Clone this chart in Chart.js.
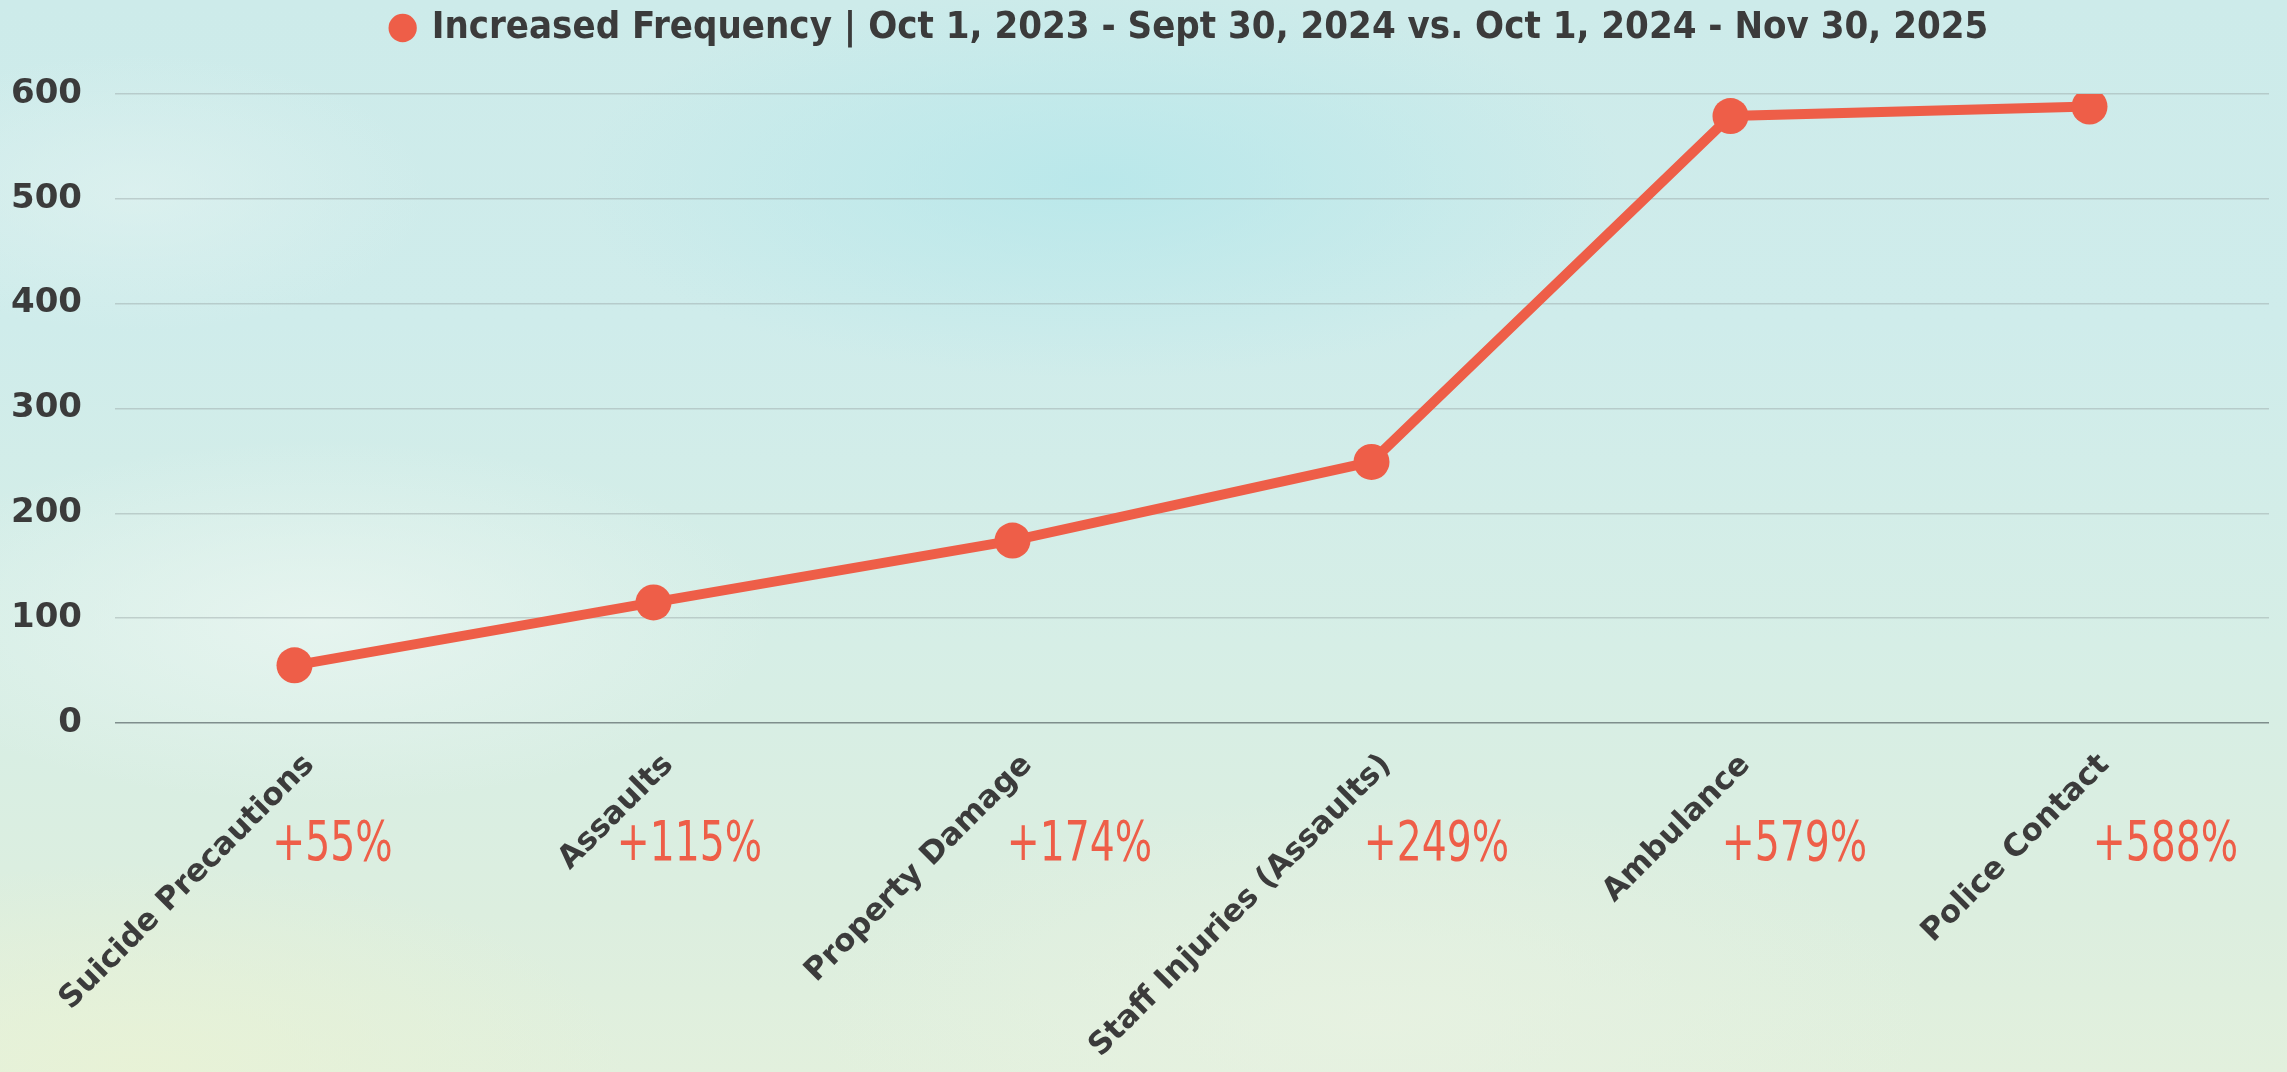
<!DOCTYPE html>
<html><head><meta charset="utf-8">
<script src="https://cdn.jsdelivr.net/npm/chart.js@4.4.1/dist/chart.umd.min.js"></script>
<style>
html,body{margin:0;padding:0;width:2287px;height:1072px;overflow:hidden;}
body{
  background:
    radial-gradient(ellipse 750px 280px at 48% 17%, rgba(182,231,234,0.85), rgba(182,231,234,0) 70%),
    radial-gradient(ellipse 650px 260px at 14% 58%, rgba(232,245,240,0.9), rgba(232,245,240,0) 70%),
    radial-gradient(ellipse 420px 200px at 6% 18%, rgba(224,242,240,0.7), rgba(224,242,240,0) 70%),
    radial-gradient(ellipse 700px 300px at 6% 100%, rgba(232,242,214,0.95), rgba(232,242,214,0) 70%),
    radial-gradient(ellipse 800px 320px at 60% 95%, rgba(232,242,226,0.8), rgba(232,242,226,0) 70%),
    linear-gradient(180deg, #cdebea 0%, #cfeceb 30%, #d6eee6 60%, #dceedf 85%, #e2f0dd 100%);
}
canvas{display:block;}
</style></head><body>
<canvas id="c" width="2287" height="1072"></canvas>
<script>
const categories = ['Suicide Precautions','Assaults','Property Damage','Staff Injuries (Assaults)','Ambulance','Police Contact'];
const seriesValues = [55, 115, 174, 249, 579, 588];
const changeLabels = ['+55%','+115%','+174%','+249%','+579%','+588%'];
const yTicks = [0, 100, 200, 300, 400, 500, 600];
const seriesName = 'Increased Frequency | Oct 1, 2023 - Sept 30, 2024 vs. Oct 1, 2024 - Nov 30, 2025';

const RED = '#EE5E48';
const DARK = '#3b3b3b';
const annotDx = [38, 36, 67, 65, 64, 76];

const changePlugin = {
  id: 'changeLabels',
  afterDraw(chart) {
    const {ctx, scales: {x, y}} = chart;
    ctx.save();
    ctx.fillStyle = RED;
    ctx.font = '56px "DejaVu Sans Condensed", sans-serif';
    ctx.textAlign = 'center';
    ctx.textBaseline = 'middle';
    const sx = 0.78;
    changeLabels.forEach((t, i) => {
      const px = x.getPixelForValue(i) + annotDx[i];
      const py = y.getPixelForValue(0) + 122;
      ctx.save();
      ctx.translate(px, py);
      ctx.scale(sx, 1);
      ctx.fillText(t, 0, 0);
      ctx.restore();
    });
    ctx.restore();
  }
};

const legendTweak = {
  id: 'legendTweak',
  beforeInit(chart) {
    const lg = chart.legend;
    if (!lg) return;
    const origFit = lg.fit;
    lg.fit = function () { origFit.call(this); this.height += 37; };
    const origDraw = lg.draw;
    lg.draw = function (area) {
      const c = this.ctx;
      c.save();
      c.translate(54, 0);
      origDraw.call(this, area);
      c.restore();
    };
  }
};

new Chart(document.getElementById('c'), {
  type: 'line',
  data: {
    labels: categories,
    datasets: [{
      label: seriesName,
      data: seriesValues,
      borderColor: RED,
      backgroundColor: RED,
      pointBackgroundColor: RED,
      pointBorderWidth: 0,
      pointRadius: 18,
      pointHoverRadius: 18,
      borderWidth: 10,
      tension: 0,
      fill: false
    }]
  },
  options: {
    responsive: false,
    animation: false,
    devicePixelRatio: 1,
    layout: { padding: { top: 0, right: 14, left: 0, bottom: 0 } },
    plugins: {
      tooltip: { enabled: false },
      legend: {
        position: 'top',
        labels: {
          usePointStyle: true,
          pointStyle: 'circle',
          boxHeight: 20,
          boxWidth: 20,
          color: DARK,
          padding: 9,
          font: { family: '"DejaVu Sans Condensed", sans-serif', size: 38, weight: 'bold' }
        }
      }
    },
    scales: {
      x: {
        offset: true,
        grid: { display: false, drawTicks: false },
        border: { display: false },
        ticks: {
          autoSkip: false,
          minRotation: 45,
          maxRotation: 45,
          padding: 24,
          labelOffset: 15,
          color: DARK,
          font: { family: '"DejaVu Sans", sans-serif', size: 31, weight: 'bold' }
        },
        afterFit(s) { s.height = 349; }
      },
      y: {
        min: 0,
        max: 600,
        afterBuildTicks(s) { s.ticks = yTicks.map(v => ({ value: v })); },
        grid: {
          drawTicks: false,
          lineWidth: 1.5,
          color: c => (c.tick && c.tick.value === 0) ? 'rgba(110,125,125,0.85)' : 'rgba(150,165,165,0.45)'
        },
        border: { display: false },
        ticks: {
          padding: 33,
          color: DARK,
          font: { family: '"DejaVu Sans", sans-serif', size: 34, weight: 'bold' }
        },
        afterFit(s) { s.width = 115; }
      }
    }
  },
  plugins: [changePlugin, legendTweak]
});
</script>
</body></html>
